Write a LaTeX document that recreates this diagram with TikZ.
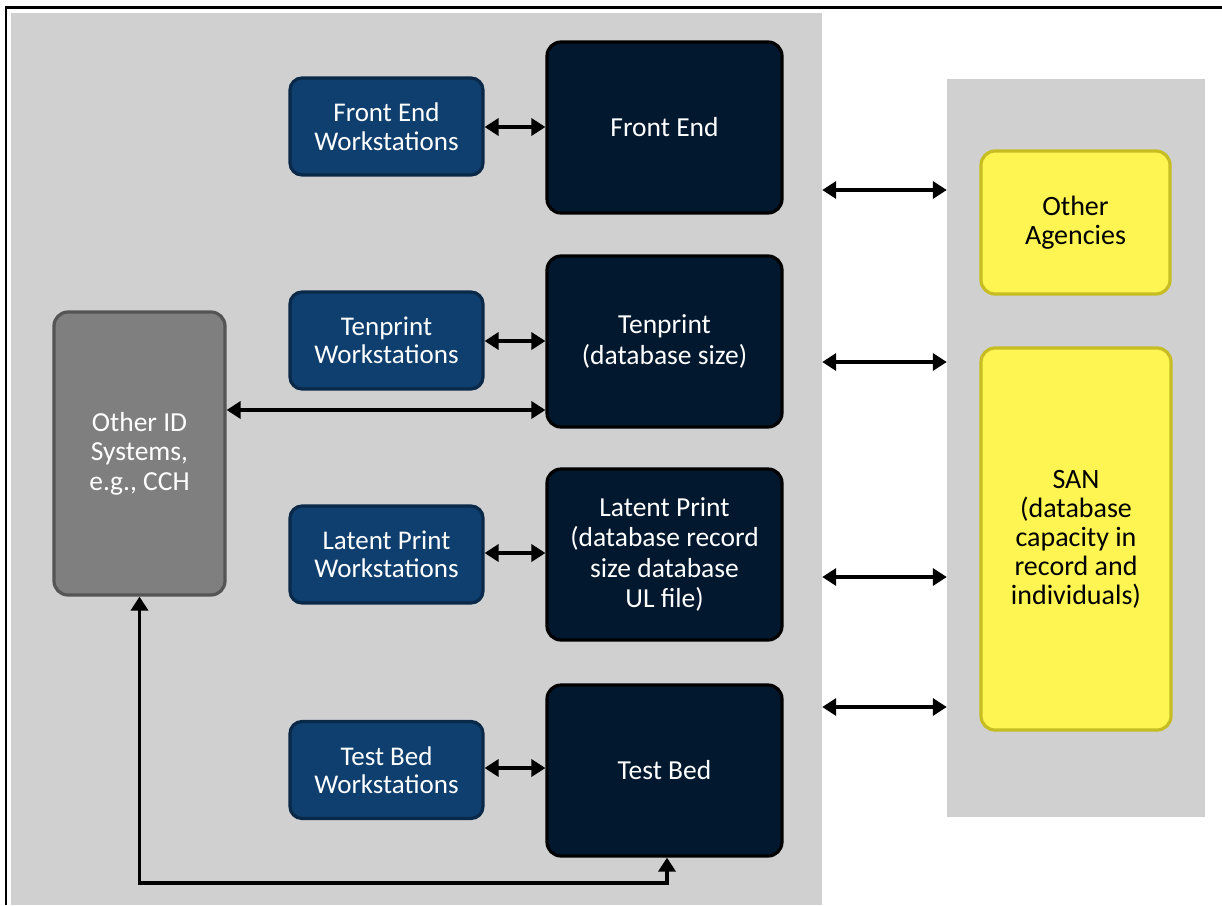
\documentclass[tikz,border=0pt]{standalone}
\usepackage{fontspec}
\setmainfont{Carlito}
\usetikzlibrary{arrows.meta}
\definecolor{panelgray}{HTML}{D0D0D0}
\definecolor{wsfill}{HTML}{0F3F6E}
\definecolor{wsdraw}{HTML}{0A2848}
\definecolor{mainfill}{HTML}{02182F}
\definecolor{oidfill}{HTML}{7F7F7F}
\definecolor{oiddraw}{HTML}{555555}
\definecolor{yfill}{HTML}{FEF553}
\definecolor{ydraw}{HTML}{C6BD22}
\begin{document}
\begin{tikzpicture}[x=1pt,y=-1pt,
  box/.style={rounded corners=14pt, line width=3.2pt, align=center, inner sep=0pt,
    font=\fontsize{27}{28.5}\selectfont},
  wsbox/.style={box, fill=wsfill, draw=wsdraw, text=white, minimum width=193pt, minimum height=97pt, rounded corners=12pt},
  mainbox/.style={box, fill=mainfill, draw=black, text=white, minimum width=235pt, minimum height=171pt, font=\fontsize{27.5}{30.5}\selectfont},
  oidbox/.style={box, fill=oidfill, draw=oiddraw, text=white, font=\fontsize{27.5}{29.5}\selectfont},
  ybox/.style={box, fill=yfill, draw=ydraw, text=black, font=\fontsize{28}{29}\selectfont},
  panel/.style={fill=panelgray, draw=none, inner sep=0pt},
  tip/.tip={Triangle[length=14pt,width=17pt]},
  arr/.style={tip-tip, line width=3.4pt, black}
]
\useasboundingbox (0,0) rectangle (1222,905);
% frame
\draw[line width=2.5pt] (6,905) -- (6,7.5) -- (1222,7.5);
% panels
\node[panel, minimum width=811pt, minimum height=892pt] (lp) at (416.5,459) {};
\node[panel, minimum width=258pt, minimum height=738pt] (rp) at (1076,448) {};
% workstation boxes
\node[wsbox] (fews) at (386.5,126.5) {Front End\\Workstations};
\node[wsbox] (tpws) at (386.5,340.5) {Tenprint\\Workstations};
\node[wsbox] (lpws) at (386.5,554.5) {Latent Print\\Workstations};
\node[wsbox] (tbws) at (386.5,770) {Test Bed\\Workstations};
% main boxes
\node[mainbox] (fe) at (664.5,127.5) {Front End};
\node[mainbox] (tp) at (664.5,341.5) {Tenprint\\(database size)};
\node[mainbox] (lpr) at (664.5,554.5) {Latent Print\\(database record\\size database\\UL file)};
\node[mainbox] (tb) at (664.5,770.5) {Test Bed};
% other ID
\node[oidbox, minimum width=171pt, minimum height=283pt] (oid) at (139.5,453.5) {Other ID\\Systems,\\e.g., CCH};
% yellow
\node[ybox, minimum width=189pt, minimum height=143pt] (oa) at (1075.5,222.5) {Other\\Agencies};
\node[ybox, minimum width=190pt, minimum height=382pt] (san) at (1076,539) {SAN\\(database\\capacity in\\record and\\individuals)};
% arrows ws <-> main
\draw[arr] (fews.east |- 0,127) -- (fe.west |- 0,127);
\draw[arr] (tpws.east |- 0,341) -- (tp.west |- 0,341);
\draw[arr] (lpws.east |- 0,553) -- (lpr.west |- 0,553);
\draw[arr] (tbws.east |- 0,768) -- (tb.west |- 0,768);
% other ID <-> tenprint
\draw[arr] (oid.east |- 0,410) -- (tp.west |- 0,410);
% panel <-> panel
\foreach \yy in {190,362,577,707}{
  \draw[arr] (lp.east |- 0,\yy) -- (rp.west |- 0,\yy);
}
% bottom loop
\coordinate (c1) at (139.5,883);
\coordinate (c2) at (667,883);
\draw[line width=3.4pt, line cap=rect] (c1) -- (c2);
\draw[line width=3.4pt, -tip] (c1) -- (oid.south);
\draw[line width=3.4pt, -tip] (c2) -- (tb.south -| c2);
\end{tikzpicture}
\end{document}
